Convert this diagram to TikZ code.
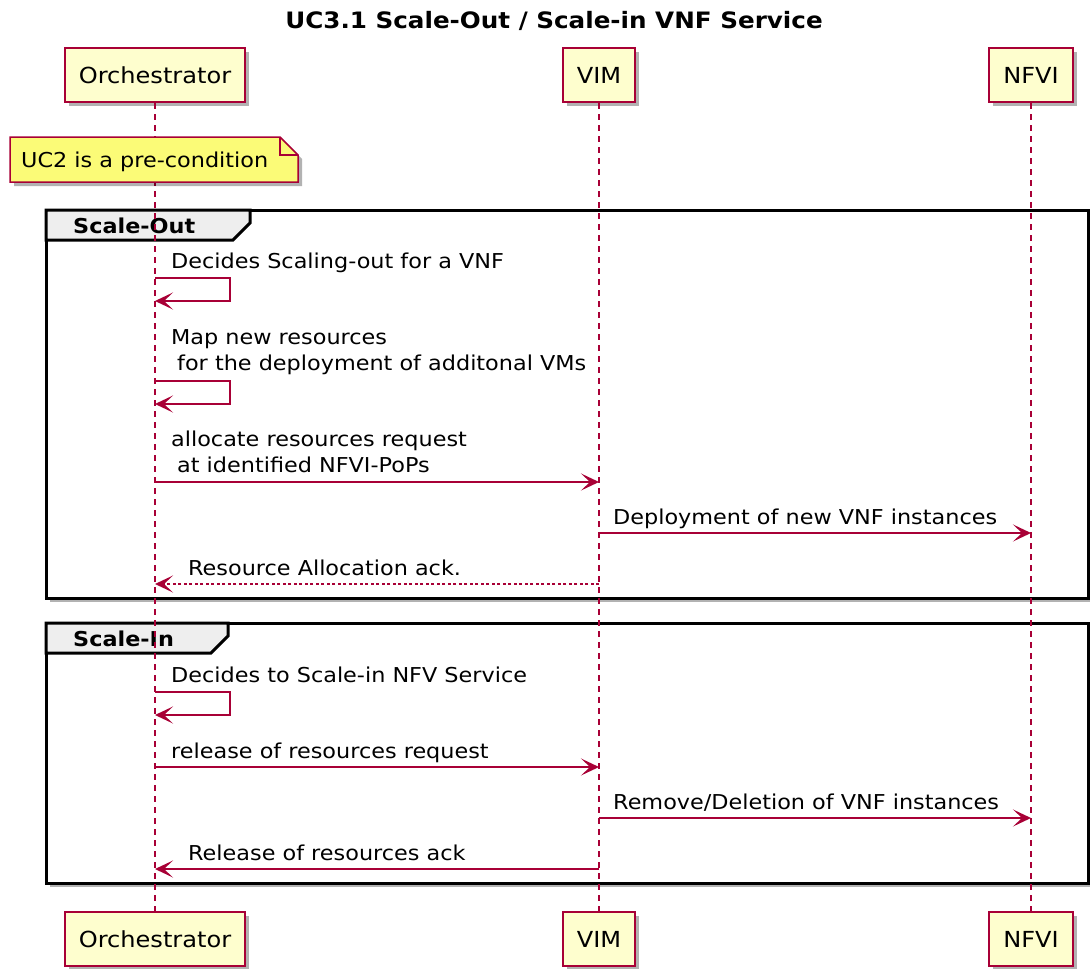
\documentclass[tikz,border=0pt]{standalone}
\usepackage{fontspec}
\setmainfont[FakeStretch=1.09]{DejaVu Sans}
\usetikzlibrary{arrows.meta,shadows}
\definecolor{umlred}{HTML}{A80036}
\definecolor{partfill}{HTML}{FEFECE}
\definecolor{notefill}{HTML}{FBFB77}
\definecolor{tabfill}{HTML}{EEEEEE}
\tikzset{
  shad/.style={drop shadow={shadow xshift=4pt,shadow yshift=-4pt,opacity=0.3,fill=black}},
  part/.style={draw=umlred, fill=partfill, line width=2pt, minimum height=54pt,
    inner xsep=14pt, inner ysep=0pt, font=\fontsize{22.1}{26}\selectfont, shad},
  lifeline/.style={umlred, line width=1.5pt, dash pattern=on 6pt off 5pt},
  msg/.style={umlred, line width=1.7pt, -{Stealth[length=18pt,width=17pt,inset=9pt]}},
  retmsg/.style={msg, dash pattern=on 3pt off 2.5pt},
  msgtext/.style={anchor=base west, inner sep=0pt, font=\fontsize{20.5}{26}\selectfont},
  frame/.style={draw=black, fill=white, line width=3pt, shad},
  grouptab/.style={draw=black, fill=tabfill, line width=3pt},
  grouplabel/.style={anchor=base west, inner sep=0pt, font=\bfseries\fontsize{20.5}{26}\selectfont},
  notebox/.style={draw=umlred, fill=notefill, line width=1.5pt, shad}
}
\begin{document}
\begin{tikzpicture}[x=1pt,y=-1pt]
\useasboundingbox (0,0) rectangle (1090,969);

% title
\node[anchor=base, inner sep=0pt, font=\bfseries\fontsize{22.6}{26}\selectfont] (title) at (554,28) {UC3.1 Scale-Out / Scale-in VNF Service};

% group frames
\draw[frame] (46,210) rectangle (1088,598);
\draw[grouptab] (46,210) -- (250,210) -- (250,223) -- (233,240) -- (46,240) -- cycle;
\node[grouplabel] (gout) at (73,233) {Scale-Out};

\draw[frame] (46,623) rectangle (1088,883);
\draw[grouptab] (46,623) -- (228,623) -- (228,636) -- (211,653) -- (46,653) -- cycle;
\node[grouplabel] (gin) at (73,646) {Scale-In};

% participants
\node[part] (oT) at (155,75) {Orchestrator};
\node[part] (vT) at (599,75) {VIM};
\node[part] (nT) at (1031,75) {NFVI};
\node[part] (oB) at (155,939) {Orchestrator};
\node[part] (vB) at (599,939) {VIM};
\node[part] (nB) at (1031,939) {NFVI};

% lifelines
\draw[lifeline] (oT.south) -- (oB.north);
\draw[lifeline] (vT.south) -- (vB.north);
\draw[lifeline] (nT.south) -- (nB.north);

% note
\path[notebox] (10,137) -- (280,137) -- (298,155) -- (298,182) -- (10,182) -- cycle;
\draw[umlred, line width=1.5pt] (280,137) -- (280,155) -- (298,155);
\node[msgtext] (note) at (21,167) {UC2 is a pre-condition};

% Scale-Out messages
\node[msgtext] (m1) at (171,268) {Decides Scaling-out for a VNF};
\draw[msg] (oT |- 0,278) -- (230,278) -- (230,301) -- (oT |- 0,301);

\node[msgtext] (m2) at (171,370) {\begin{tabular}[b]{@{}l@{}}Map new resources\\\hspace*{6pt}for the deployment of additonal VMs\end{tabular}};
\draw[msg] (oT |- 0,381) -- (230,381) -- (230,404) -- (oT |- 0,404);

\node[msgtext] (m3) at (171,472) {\begin{tabular}[b]{@{}l@{}}allocate resources request\\\hspace*{6pt}at identified NFVI-PoPs\end{tabular}};
\draw[msg] (oT |- 0,482) -- (vT |- 0,482);

\node[msgtext] (m4) at (613,524) {Deployment of new VNF instances};
\draw[msg] (vT |- 0,533) -- (nT |- 0,533);

\node[msgtext] (m5) at (188,575) {Resource Allocation ack.};
\draw[retmsg] (vT |- 0,584) -- (oT |- 0,584);

% Scale-In messages
\node[msgtext] (m6) at (171,682) {Decides to Scale-in NFV Service};
\draw[msg] (oT |- 0,692) -- (230,692) -- (230,715) -- (oT |- 0,715);

\node[msgtext] (m7) at (171,758) {release of resources request};
\draw[msg] (oT |- 0,767) -- (vT |- 0,767);

\node[msgtext] (m8) at (613,809) {Remove/Deletion of VNF instances};
\draw[msg] (vT |- 0,818) -- (nT |- 0,818);

\node[msgtext] (m9) at (188,860) {Release of resources ack};
\draw[msg] (vT |- 0,869) -- (oT |- 0,869);
\end{tikzpicture}
\end{document}
